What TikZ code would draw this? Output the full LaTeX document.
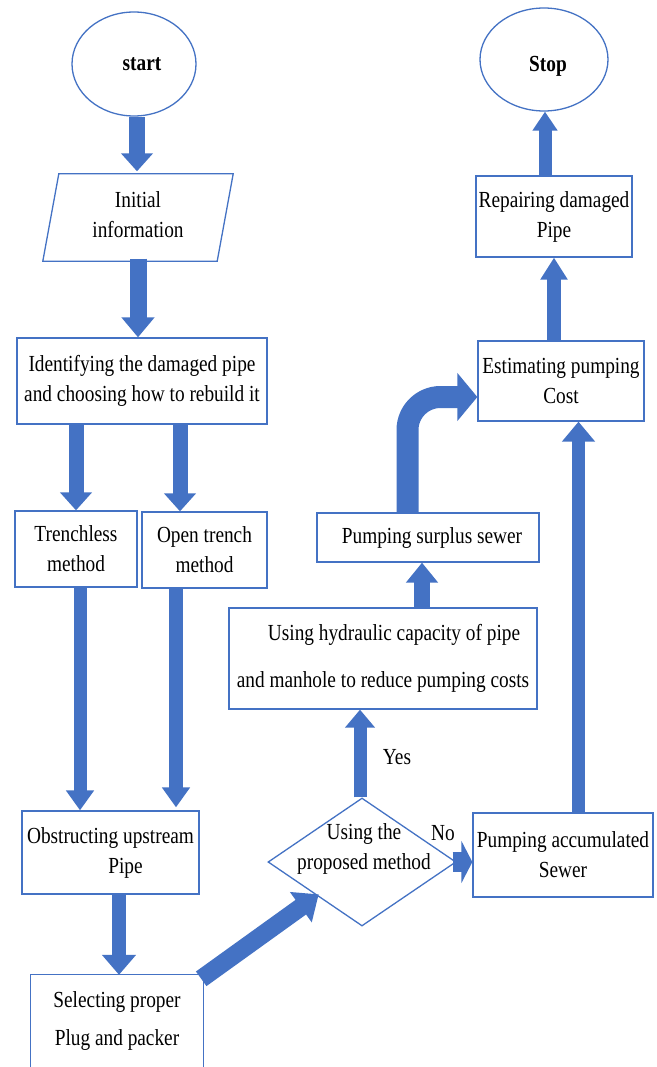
\documentclass[tikz,border=0pt]{standalone}
\usepackage{fontspec}
\setmainfont{Liberation Serif}[FakeStretch=0.84]
\usetikzlibrary{arrows.meta,shapes.geometric,calc}
\definecolor{obl}{HTML}{4472C4}
\begin{document}
\begin{tikzpicture}[x=1pt,y=-1pt,
  box/.style={draw=obl, line width=1.3pt, rectangle, inner sep=0pt, align=center, font=\fontsize{23}{30}\selectfont},
  txt/.style={inner sep=0pt, align=center, font=\fontsize{23}{30}\selectfont},
  term/.style={draw=obl, line width=1.3pt, ellipse, inner sep=0pt, font=\bfseries\fontsize{23}{30}\selectfont},
  fat/.style n args={3}{draw=obl, line width=#1pt, -{Triangle[width=#2pt,length=#3pt]}}]
\useasboundingbox (0,0) rectangle (656,1067);
\fill[white] (0,0) rectangle (656,1067);

% nodes
\node[term, minimum width=124pt, minimum height=104pt] (start) at (134,64) {\hspace*{16pt}start};
\node[txt, minimum width=190pt, minimum height=87pt] (initial) at (138,215) {Initial\\information};
\draw[obl, line width=1.3pt] ([shift={(16,2.5)}]initial.north west) -- ([yshift=-2.5pt]initial.north east) -- ([shift={(-16,2.5)}]initial.south east) -- ([yshift=-2.5pt]initial.south west) -- cycle;
\node[box, minimum width=250pt, minimum height=86pt] (identify) at (142,381) {Identifying the damaged pipe\\and choosing how to rebuild it};
\node[box, minimum width=122pt, minimum height=76pt] (trench) at (76,549) {Trenchless\\method};
\node[box, minimum width=125pt, minimum height=76pt] (open) at (204.5,550) {Open trench\\method};
\node[box, minimum width=177pt, minimum height=83pt] (obstruct) at (110.5,852.5) {Obstructing upstream\\\hspace*{30pt}Pipe};
\node[txt, minimum width=172pt, minimum height=92pt, font=\fontsize{23}{38}\selectfont] (select) at (117,1021) {Selecting proper\\Plug and packer};
\draw[obl, line width=1.3pt] (select.south west) -- (select.north west) -- (select.north east) -- (select.south east);
\node[draw=obl, line width=1.3pt, diamond, minimum width=188pt, minimum height=128pt, inner sep=0pt] (dia) at (362,862) {};
\node[txt] (dtext) at (364,849) {Using the\\proposed method};
\node[box, minimum width=180pt, minimum height=84pt] (accum) at (563,855) {Pumping accumulated\\Sewer};
\node[box, minimum width=308pt, minimum height=101pt, font=\fontsize{23}{47}\selectfont] (hyd) at (383,658.5) {\hspace*{22pt}Using hydraulic capacity of pipe\\and manhole to reduce pumping costs};
\node[box, minimum width=222pt, minimum height=49pt] (surplus) at (428,537.5) {\hspace*{8pt}Pumping surplus sewer};
\node[box, minimum width=166pt, minimum height=80pt] (estimate) at (561,381) {Estimating pumping\\Cost};
\node[box, minimum width=156pt, minimum height=81pt] (repair) at (554,216.5) {Repairing damaged\\Pipe};
\node[term, minimum width=128pt, minimum height=103pt] (stop) at (544,59.5) {\hspace*{8pt}\raisebox{-12pt}[0pt][0pt]{Stop}};
\node[txt] (yes) at (397,757) {Yes};
\node[txt] (no) at (443,833) {No};

% connectors
\draw[fat={16}{31}{18}] ([xshift=3pt]start.south) -- ([xshift=3pt]start.south |- initial.north);
\draw[fat={17}{32}{20}] (initial.south) -- (initial.south |- identify.north);
\draw[fat={15}{31}{18}] (trench.north |- identify.south) -- (trench.north);
\draw[fat={15}{31}{18}] ([xshift=-24.5pt]open.north |- identify.south) -- ([xshift=-24.5pt]open.north);
\draw[fat={13}{27}{20}] ([xshift=4pt]trench.south) -- ([xshift=4pt]trench.south |- obstruct.north);
\draw[fat={14}{27}{20}] ([xshift=-28.5pt]open.south) -- ([xshift=-28.5pt,yshift=3pt]open.south |- obstruct.north);
\draw[fat={14}{33}{20}] ([xshift=8.5pt]obstruct.south) -- ([xshift=8.5pt]obstruct.south |- select.north);
\draw[fat={18}{36}{22}] ([shift={(-2,4)}]select.north east) -- ([xshift=4pt]dia.south west);
\draw[fat={20}{42}{11}] ([xshift=-4pt]dia.east) -- (dia.east -| accum.west);
\draw[fat={13}{29}{18}] ([xshift=-2pt]dia.north) -- ([xshift=-2pt]dia.north |- hyd.south);
\draw[fat={16}{31}{20}] ([xshift=39pt]hyd.north) -- ([xshift=39pt]hyd.north |- surplus.south);
\draw[fat={22}{47}{20}, rounded corners=33pt] ([xshift=-20.5pt]surplus.north) |- ([yshift=-16pt]estimate.west);
\draw[fat={13}{32}{20}] ([xshift=15.5pt]accum.north) -- ([xshift=15.5pt]accum.north |- estimate.south);
\draw[fat={14}{26}{22}] ([xshift=-7pt]estimate.north) -- ([xshift=-7pt]estimate.north |- repair.south);
\draw[fat={13}{24}{19}] ([xshift=-9pt]repair.north) -- ([xshift=-9pt]repair.north |- stop.south);
\end{tikzpicture}
\end{document}
